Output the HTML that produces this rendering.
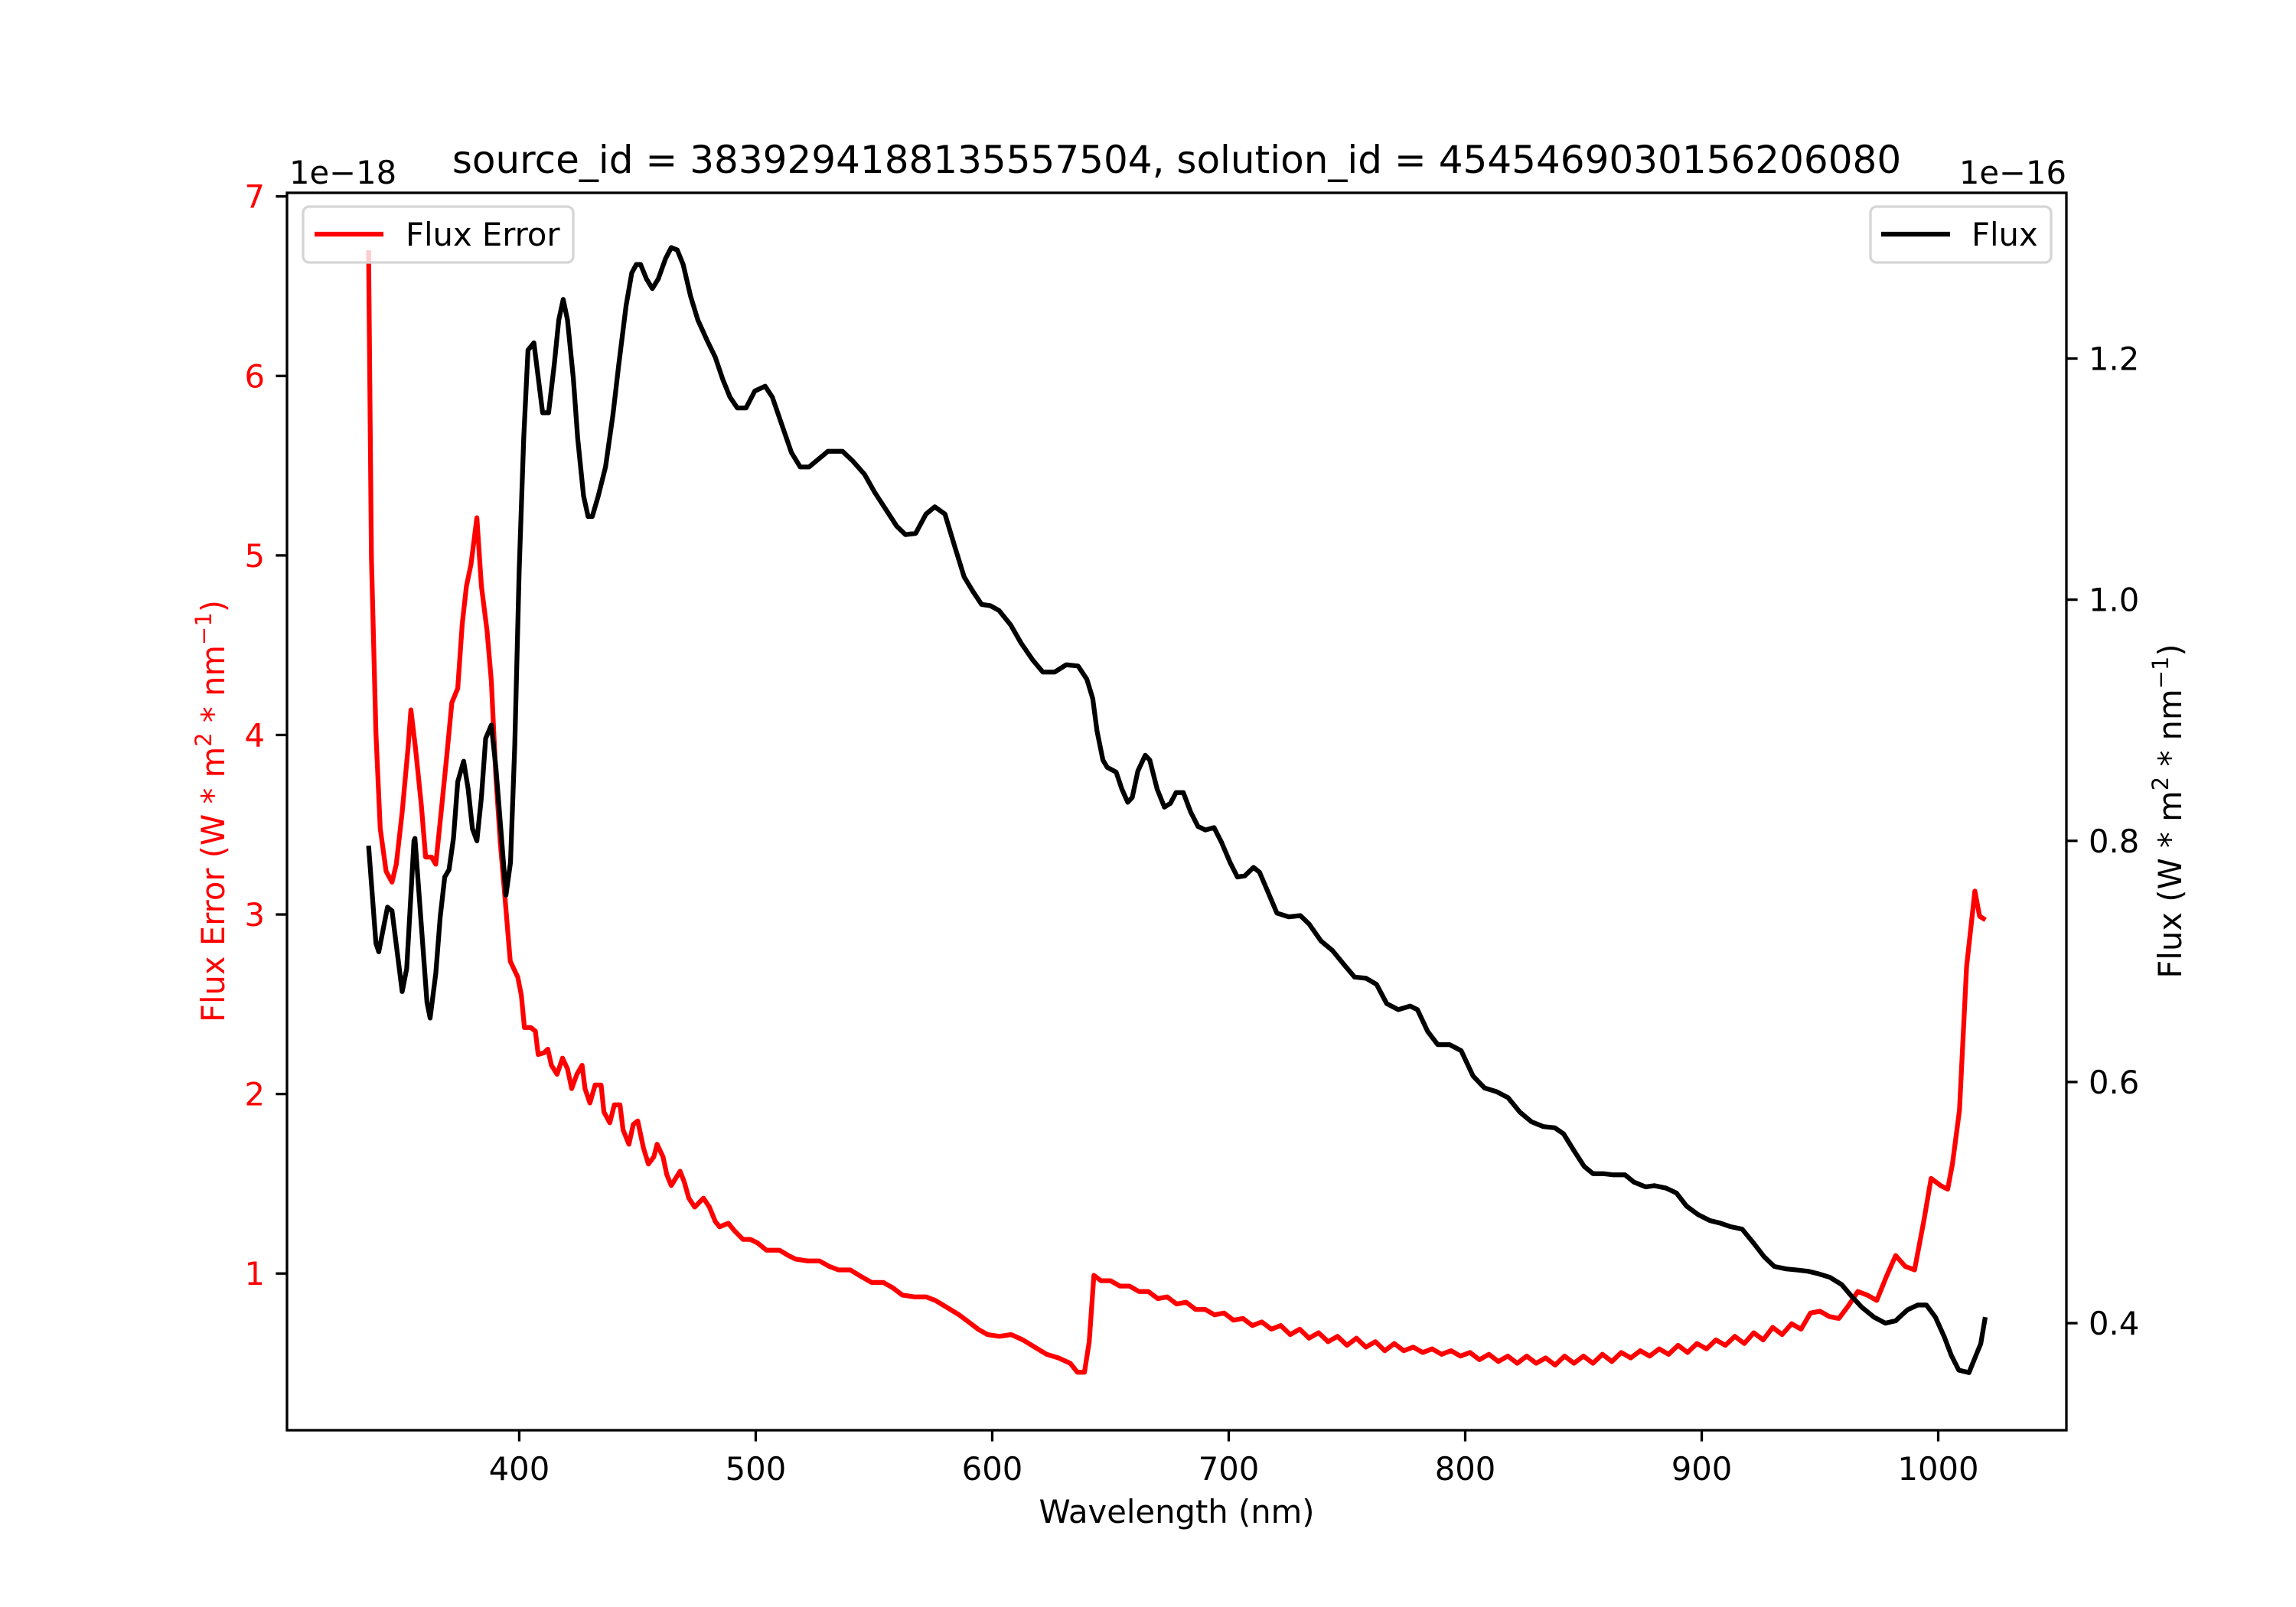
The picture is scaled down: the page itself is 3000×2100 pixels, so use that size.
<!DOCTYPE html>
<html><head><meta charset="utf-8"><style>
html,body{margin:0;padding:0;background:#fff;}
svg{display:block;font-family:"DejaVu Sans","Liberation Sans",sans-serif;}
</style></head><body>
<svg id="chart" width="3000" height="2100" viewBox="0 0 3000 2100" xmlns="http://www.w3.org/2000/svg">
<rect x="0" y="0" width="3000" height="2100" fill="#fff"/>
<g id="plot"></g>
<text x="1537.5" y="226" text-anchor="middle" font-size="50">source_id = 3839294188135557504, solution_id = 4545469030156206080</text>
<text x="378" y="240" font-size="41.7">1e−18</text>
<text x="2700" y="240" text-anchor="end" font-size="41.7">1e−16</text>
<text x="1537.5" y="1990" text-anchor="middle" font-size="41.7">Wavelength (nm)</text>
<text transform="translate(293,1060) rotate(-90)" text-anchor="middle" font-size="41.7" fill="#ff0000">Flux Error (W * m<tspan baseline-shift="super" font-size="29">2</tspan> * nm<tspan baseline-shift="super" font-size="29">−1</tspan>)</text>
<text transform="translate(2850,1060) rotate(-90)" text-anchor="middle" font-size="41.7" fill="#000">Flux (W * m<tspan baseline-shift="super" font-size="29">2</tspan> * nm<tspan baseline-shift="super" font-size="29">−1</tspan>)</text>
<g>
<rect x="396" y="270" width="353" height="73" rx="8" fill="#fff" fill-opacity="0.8" stroke="#d5d5d5" stroke-width="3.3"/>
<line x1="411" y1="306" x2="501" y2="306" stroke="#ff0000" stroke-width="6.25"/>
<text x="530" y="321" font-size="41.7">Flux Error</text>
</g>
<g>
<rect x="2444" y="270" width="236" height="73" rx="8" fill="#fff" fill-opacity="0.8" stroke="#d5d5d5" stroke-width="3.3"/>
<line x1="2458" y1="306" x2="2548" y2="306" stroke="#000" stroke-width="6.25"/>
<text x="2576" y="321" font-size="41.7">Flux</text>
</g>
</svg>
<script>
const xTicks = [400,500,600,700,800,900,1000];
const leftTicks = [1,2,3,4,5,6,7];
const rightTicks = [0.4,0.6,0.8,1.0,1.2];
const rightTickLabels = ["0.4","0.6","0.8","1.0","1.2"];

const fluxWl = [336.3,339.4,340.6,344.3,346.2,350.5,352.4,355.5,355.9,361,362.3,364.7,366.6,368.5,370.3,372.2,374,376.5,378.4,380.2,382.1,384,385.8,388.2,390.1,392.6,394.4,396.3,398.1,400,401.9,403.7,406.2,409.9,412.4,414.8,416.7,418.6,420.4,422.9,424.7,427.2,429.1,430.9,433.4,436.5,439.6,442.1,445.2,447.6,449.5,451.3,453.8,456.3,458.8,461.9,464.3,466.8,469.3,472.4,475.5,479.2,482.9,486,489.1,492.2,495.9,499.6,504,507,510.7,515.1,518.8,522.5,526.2,530.5,536.7,541,546,550.3,555.3,559.6,563.3,567.6,572,575.7,580,584.3,588.1,591.8,595.5,599.2,602.9,607.8,612.2,617.1,621.4,626.4,631.3,636.3,640,642.5,644.3,646.8,648.6,652.4,654.8,657.3,659.2,661.6,664.7,666.6,669.7,672.8,675.3,677.7,680.8,683.9,687,690.1,693.8,696.9,700.6,703.7,706.8,710.5,713,716.7,720.4,725.4,730.3,734,739,743.9,748.9,753.2,758.1,762.5,766.8,771.7,776.7,779.8,784.1,788.4,793.4,798.3,803.3,808.2,813.2,818.1,823.1,828,833,837.9,841.6,846,850.3,854,858.3,862.7,867.6,871.3,876.3,880,884.9,889.3,893.6,898.5,903.5,907.8,912.2,917.1,922.1,926.4,930.7,935.7,940.6,945,949.3,954.2,959.2,963.5,967.8,972.8,977.7,982,987,991.3,995,998.8,1002.5,1005.6,1008.7,1013,1016.1,1018,1019.9];
const fluxVal = [0.796,0.715,0.708,0.745,0.742,0.675,0.694,0.800,0.802,0.666,0.653,0.69,0.737,0.77,0.776,0.802,0.849,0.866,0.843,0.81,0.80,0.836,0.885,0.896,0.861,0.80,0.755,0.782,0.879,1.025,1.134,1.207,1.213,1.155,1.155,1.195,1.232,1.249,1.232,1.183,1.134,1.086,1.069,1.069,1.086,1.110,1.153,1.195,1.244,1.271,1.278,1.278,1.266,1.258,1.266,1.283,1.292,1.290,1.278,1.252,1.232,1.216,1.201,1.183,1.168,1.159,1.159,1.173,1.177,1.168,1.147,1.122,1.110,1.110,1.116,1.123,1.123,1.115,1.104,1.089,1.074,1.061,1.054,1.055,1.071,1.077,1.071,1.043,1.019,1.007,0.996,0.995,0.991,0.979,0.964,0.950,0.940,0.940,0.946,0.945,0.934,0.918,0.891,0.867,0.861,0.857,0.843,0.832,0.836,0.858,0.871,0.867,0.843,0.828,0.831,0.840,0.840,0.824,0.812,0.809,0.811,0.799,0.782,0.770,0.771,0.778,0.774,0.757,0.740,0.737,0.738,0.731,0.717,0.709,0.697,0.687,0.686,0.681,0.665,0.660,0.663,0.660,0.642,0.631,0.631,0.626,0.605,0.595,0.592,0.587,0.575,0.567,0.563,0.562,0.557,0.543,0.530,0.524,0.524,0.523,0.523,0.517,0.513,0.514,0.512,0.508,0.497,0.490,0.485,0.483,0.480,0.478,0.466,0.455,0.447,0.445,0.444,0.443,0.441,0.438,0.432,0.422,0.413,0.405,0.400,0.402,0.411,0.415,0.415,0.405,0.389,0.373,0.361,0.359,0.374,0.383,0.405];

const errWl = [336.3,337.5,339.4,341.2,343.7,346.2,348,350.5,353,354.2,356.1,358.6,360.4,362.9,364.7,366.6,369.1,371.5,374,375.9,377.7,379.6,382.1,384,386.4,388.2,390.1,392,393.8,396.2,399.4,400.9,402.2,404.9,406.8,408,410.5,412.1,413.6,416,418.3,420.4,422.2,424.4,426.6,427.8,429.9,432.1,434.6,435.8,438.3,440.2,442.6,443.9,446.4,448.2,450.1,452.5,454.6,456.9,458.3,460.8,462.4,464.3,468,469.8,471.7,474.2,477.9,480.4,482.9,484.7,488.4,490.9,494.6,497.7,500.8,504.5,510,513.8,516.9,522,527,531,535,540,545,549,554,558,562,567,572,576,581,586,590,594,598,603,608,613,618,623,628,633,636,639,641,643,646,650,654,658,662,666,670,674,678,682,686,690,694,698,702,706,710,714,718,722,726,730,734,738,742,746,750,754,758,762,766,770,774,778,782,786,790,794,798,802,806,810,814,818,822,826,830,834,838,842,846,850,854,858,862,866,870,874,878,882,886,890,894,898,902,906,910,914,918,922,926,930,934,938,942,946,950,954,958,962,966,970,974,978,982,986,990,994,997,1001,1004,1006,1009,1012,1015.5,1017.5,1020];
const errVal = [6.70,4.99,4.01,3.48,3.24,3.18,3.28,3.57,3.93,4.14,3.93,3.61,3.32,3.32,3.28,3.52,3.85,4.18,4.26,4.62,4.83,4.95,5.21,4.83,4.58,4.30,3.77,3.40,3.12,2.74,2.65,2.55,2.37,2.37,2.35,2.22,2.23,2.25,2.16,2.11,2.20,2.14,2.03,2.11,2.16,2.03,1.95,2.05,2.05,1.90,1.84,1.94,1.94,1.80,1.72,1.83,1.85,1.70,1.61,1.65,1.72,1.65,1.55,1.49,1.57,1.51,1.42,1.37,1.42,1.37,1.29,1.26,1.28,1.24,1.19,1.19,1.17,1.13,1.13,1.10,1.08,1.07,1.07,1.04,1.02,1.02,0.98,0.95,0.95,0.92,0.88,0.87,0.87,0.85,0.81,0.77,0.73,0.69,0.66,0.65,0.66,0.63,0.59,0.55,0.53,0.50,0.45,0.45,0.62,0.99,0.96,0.96,0.93,0.93,0.90,0.90,0.86,0.87,0.83,0.84,0.80,0.80,0.77,0.78,0.74,0.75,0.71,0.73,0.69,0.71,0.66,0.69,0.64,0.67,0.62,0.65,0.60,0.64,0.59,0.62,0.57,0.61,0.57,0.59,0.56,0.58,0.55,0.57,0.54,0.56,0.52,0.55,0.51,0.54,0.50,0.54,0.50,0.53,0.49,0.54,0.50,0.54,0.50,0.55,0.51,0.56,0.53,0.57,0.54,0.58,0.55,0.60,0.56,0.61,0.58,0.63,0.60,0.65,0.61,0.67,0.63,0.70,0.66,0.72,0.69,0.78,0.79,0.76,0.75,0.82,0.90,0.88,0.85,0.98,1.10,1.04,1.02,1.30,1.53,1.49,1.47,1.61,1.91,2.71,3.13,2.99,2.97];

const AX = {l:375, r:2700, t:252, b:1869};
function xs(nm){ return AX.l + (nm-301.8)/(1054.2-301.8)*(AX.r-AX.l); }
function yl(v){ return AX.b - (v-0.127)/(7.02-0.127)*(AX.b-AX.t); }
function yr(v){ return AX.b - (v-0.3112)/(1.3374-0.3112)*(AX.b-AX.t); }

const NS = "http://www.w3.org/2000/svg";
const g = document.getElementById('plot');
function mk(tag, attrs, parent){
  const el = document.createElementNS(NS, tag);
  for (const k in attrs) el.setAttribute(k, attrs[k]);
  (parent||g).appendChild(el);
  return el;
}

// series
let pe = errWl.map((w,i)=>xs(w).toFixed(1)+','+yl(errVal[i]).toFixed(1)).join(' ');
const errLine = mk('polyline',{points:pe,fill:'none',stroke:'#ff0000','stroke-width':6.25,'stroke-linejoin':'round'});


let pf = fluxWl.map((w,i)=>xs(w).toFixed(1)+','+yr(fluxVal[i]).toFixed(1)).join(' ');
const fluxLine = mk('polyline',{points:pf,fill:'none',stroke:'#000','stroke-width':6.25,'stroke-linejoin':'round'});



// frame
const frame = mk('rect',{x:AX.l,y:AX.t,width:AX.r-AX.l,height:AX.b-AX.t,fill:'none',stroke:'#000','stroke-width':3.3});



xTicks.forEach(t=>{
  const x = xs(t);
  const tk = mk('line',{x1:x,x2:x,y1:AX.b,y2:AX.b+14.6,stroke:'#000','stroke-width':3.3});
  
  
  const tx = mk('text',{x:x,y:AX.b+65,'text-anchor':'middle','font-size':41.7});
  tx.textContent = t;
  
  
});
leftTicks.forEach(t=>{
  const y = yl(t);
  const tk = mk('line',{x1:AX.l-14.6,x2:AX.l,y1:y,y2:y,stroke:'#000','stroke-width':3.3});
  
  
  const tx = mk('text',{x:AX.l-29,y:y+15,'text-anchor':'end','font-size':41.7,fill:'#ff0000'});
  tx.textContent = t;
  
  
});
rightTicks.forEach((t,i)=>{
  const y = yr(t);
  const tk = mk('line',{x1:AX.r,x2:AX.r+14.6,y1:y,y2:y,stroke:'#000','stroke-width':3.3});
  
  
  const tx = mk('text',{x:AX.r+29,y:y+15,'text-anchor':'start','font-size':41.7});
  tx.textContent = rightTickLabels[i];
  
  
});
</script>
</body></html>
